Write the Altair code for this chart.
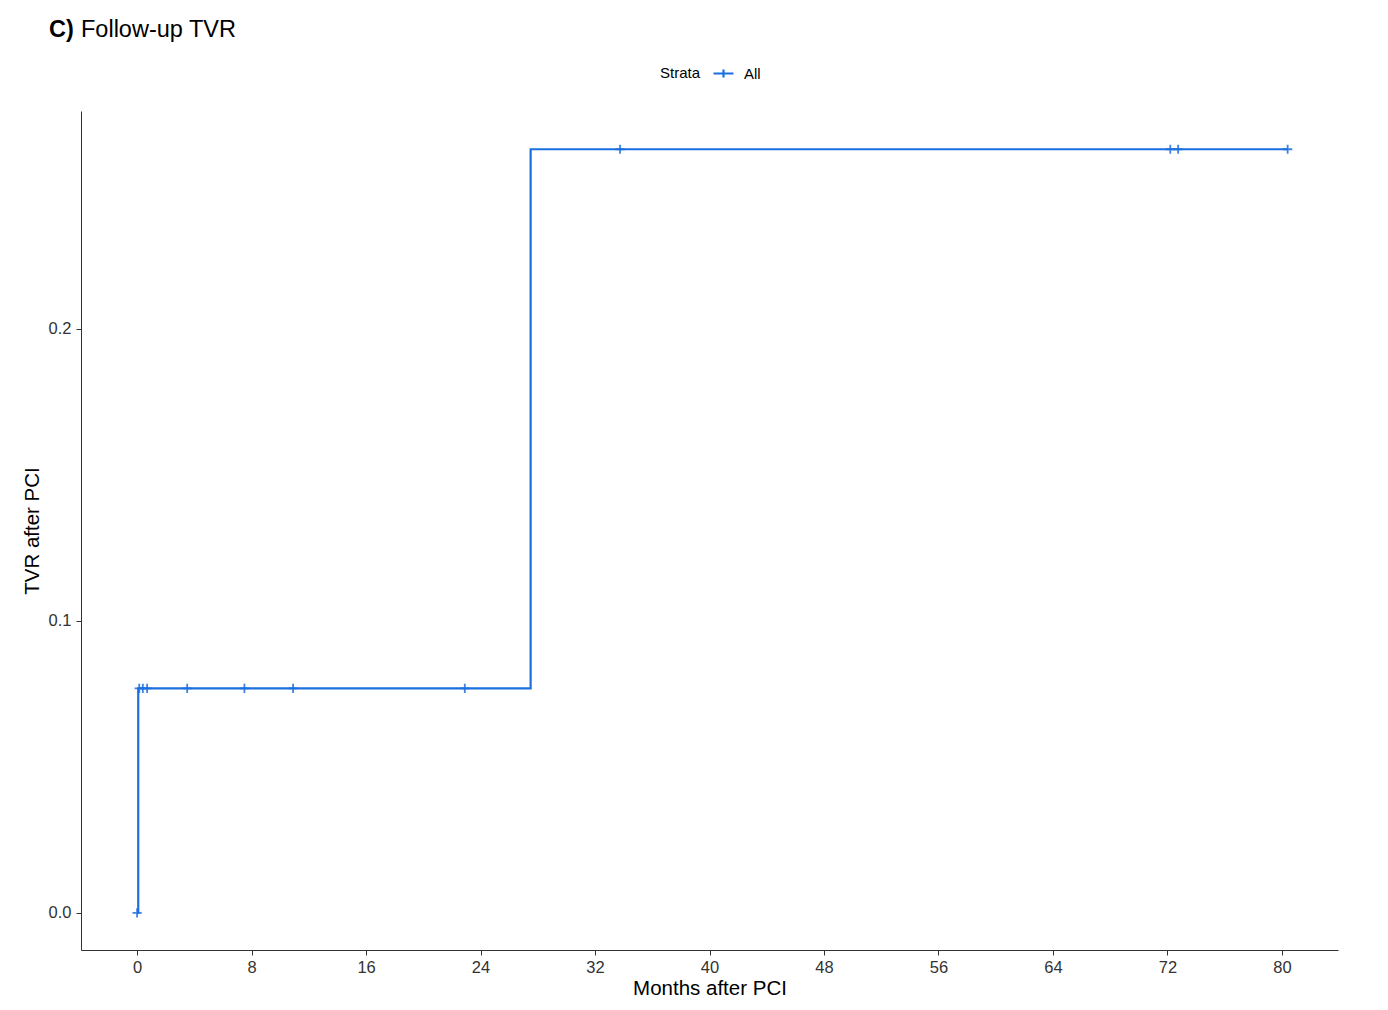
import altair as alt
import pandas as pd

# Step curve (Kaplan-Meier style cumulative incidence)
step_time = [0.0, 0.08, 27.5, 80.4]
step_value = [0.0, 0.0769, 0.2615, 0.2615]

# Censoring marks
cens_time = [0.0, 0.15, 0.4, 0.7, 3.5, 7.5, 10.9, 22.9, 33.75, 72.2, 72.75, 80.4]
cens_value = [0.0, 0.0769, 0.0769, 0.0769, 0.0769, 0.0769, 0.0769, 0.0769,
              0.2615, 0.2615, 0.2615, 0.2615]

x_ticks = [0, 8, 16, 24, 32, 40, 48, 56, 64, 72, 80]
y_ticks = [0.0, 0.1, 0.2]

BLUE = "#1c6fdf"
FONT = "Liberation Sans"

line_df = pd.DataFrame({"time": step_time, "value": step_value, "Strata": "All"})
cens_df = pd.DataFrame({"time": cens_time, "value": cens_value, "Strata": "All"})

xscale = alt.Scale(domain=[-3.92, 83.92], nice=False, zero=False)
yscale = alt.Scale(domain=[-0.0127, 0.2746], nice=False, zero=False)

xaxis = alt.Axis(values=x_ticks, title="Months after PCI", grid=False,
                 labelFontSize=16.5, labelColor="#333333", labelFont=FONT,
                 titleFontSize=20.5, titleFont=FONT, titleColor="#000000",
                 titleFontWeight="normal", titlePadding=3,
                 domainColor="#333333", tickColor="#333333", tickSize=5,
                 labelPadding=4)
yaxis = alt.Axis(values=y_ticks, format=".1f", title="TVR after PCI", grid=False,
                 labelFontSize=16.5, labelColor="#333333", labelFont=FONT,
                 titleFontSize=20.5, titleFont=FONT, titleColor="#000000",
                 titleFontWeight="normal", titlePadding=6,
                 domainColor="#333333", tickColor="#333333", tickSize=5,
                 labelPadding=5)

color = alt.Color("Strata:N", scale=alt.Scale(domain=["All"], range=[BLUE]),
                  legend=alt.Legend(orient="none", legendX=631, legendY=-49,
                                    direction="horizontal", title=None,
                                    labelFont=FONT, labelFontSize=15, labelColor="#000000",
                                    labelBaseline="middle",
                                    symbolType="M-1,0L1,0M0,-0.4L0,0.4",
                                    symbolSize=400, symbolStrokeWidth=2.2,
                                    symbolStrokeColor=BLUE, symbolFillColor=BLUE,
                                    labelOffset=9))

line = alt.Chart(line_df).mark_line(interpolate="step-after", strokeWidth=2.2).encode(
    x=alt.X("time:Q", scale=xscale, axis=xaxis),
    y=alt.Y("value:Q", scale=yscale, axis=yaxis),
    color=color,
)

cens = alt.Chart(cens_df).mark_point(shape="M-1,0L1,0M0,-1L0,1", size=85,
                                     strokeWidth=1.8, filled=False,
                                     color=BLUE, opacity=0.85).encode(
    x="time:Q", y="value:Q"
)

legend_title = alt.Chart(pd.DataFrame({"t": ["Strata"]})).mark_text(
    align="left", baseline="middle", font=FONT, fontSize=15,
    color="#000000").encode(text="t:N", x=alt.value(579), y=alt.value(-38))

title_c = alt.Chart(pd.DataFrame({"t": ["C)"]})).mark_text(
    align="left", baseline="alphabetic", font=FONT, fontSize=23.5,
    fontWeight="bold", color="#000000").encode(
    text="t:N", x=alt.value(-32), y=alt.value(-74))
title_rest = alt.Chart(pd.DataFrame({"t": ["Follow-up TVR"]})).mark_text(
    align="left", baseline="alphabetic", font=FONT, fontSize=23.5,
    color="#000000").encode(text="t:N", x=alt.value(0), y=alt.value(-74))

chart = alt.layer(line, cens, legend_title, title_c, title_rest).properties(
    width=1257, height=839,
    autosize=alt.AutoSizeParams(type="none"),
    padding={"left": 73, "top": 103, "right": 40, "bottom": 52},
).configure(background="white", view=alt.ViewConfig(stroke="transparent", strokeWidth=0))

chart.save("out.html", embed_options={"renderer": "svg", "actions": False})
